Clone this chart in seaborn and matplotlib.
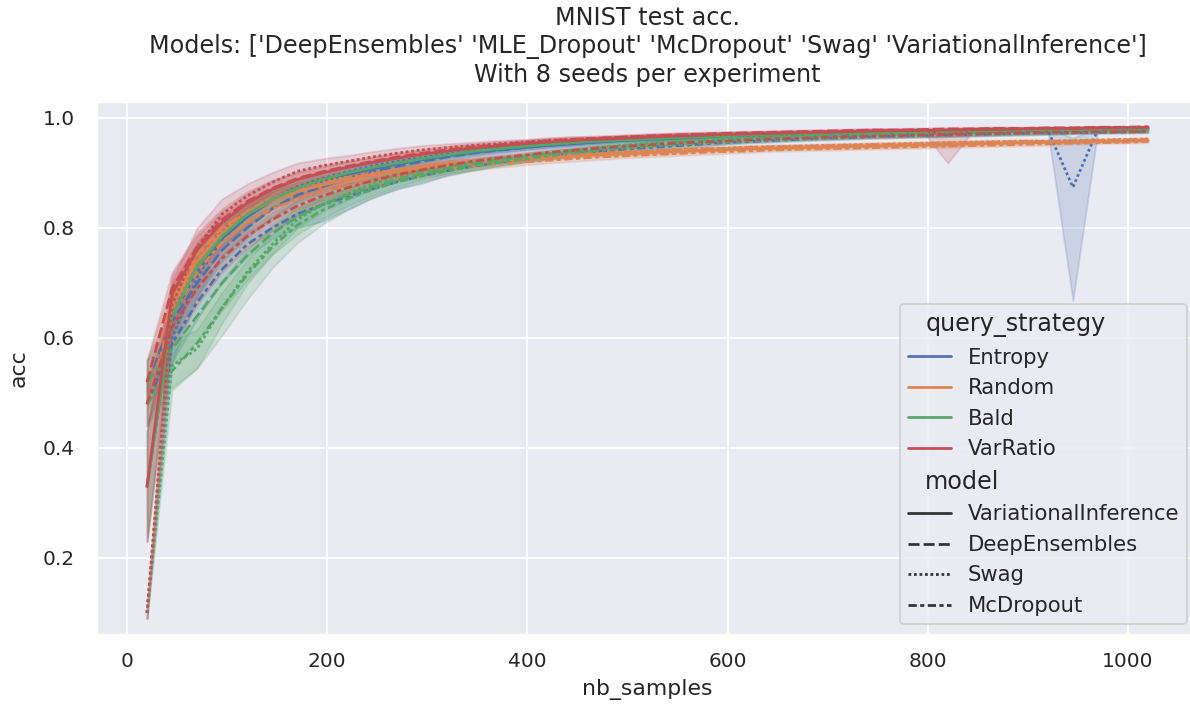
import matplotlib
matplotlib.use("Agg")
import matplotlib.pyplot as plt
import numpy as np
import pandas as pd
import seaborn as sns

# ---------------- data ----------------
nb_samples = list(range(20, 1021, 25))  # 41 acquisition steps

strategies = ["Entropy", "Random", "Bald", "VarRatio"]
models = ["VariationalInference", "DeepEnsembles", "Swag", "McDropout"]

# Entropy
E_VI = [0.33, 0.64, 0.72, 0.78, 0.82, 0.85, 0.87, 0.885, 0.897, 0.907,
        0.916, 0.924, 0.931, 0.937, 0.942, 0.946, 0.950, 0.953, 0.956, 0.959,
        0.961, 0.963, 0.965, 0.967, 0.968, 0.969, 0.970, 0.971, 0.972, 0.973,
        0.974, 0.975, 0.976, 0.976, 0.977, 0.978, 0.978, 0.979, 0.979, 0.980,
        0.980]
E_DE = [0.52, 0.63, 0.70, 0.76, 0.80, 0.835, 0.86, 0.875, 0.89, 0.902,
        0.912, 0.921, 0.929, 0.936, 0.941, 0.946, 0.950, 0.954, 0.957, 0.960,
        0.962, 0.964, 0.966, 0.968, 0.969, 0.970, 0.972, 0.973, 0.974, 0.975,
        0.976, 0.977, 0.977, 0.978, 0.979, 0.979, 0.980, 0.980, 0.981, 0.981,
        0.982]
E_Swag = [0.10, 0.60, 0.71, 0.78, 0.82, 0.855, 0.875, 0.89, 0.902, 0.913,
          0.921, 0.928, 0.935, 0.940, 0.945, 0.949, 0.953, 0.956, 0.959, 0.961,
          0.963, 0.965, 0.967, 0.968, 0.969, 0.971, 0.972, 0.973, 0.974, 0.975,
          0.975, 0.976, 0.977, 0.977, 0.978, 0.978, 0.978, 0.874, 0.979, 0.980,
          0.980]
E_McD = [0.48, 0.59, 0.665, 0.725, 0.77, 0.80, 0.825, 0.842, 0.857, 0.871,
         0.884, 0.895, 0.904, 0.912, 0.919, 0.925, 0.930, 0.935, 0.939, 0.943,
         0.946, 0.949, 0.952, 0.955, 0.957, 0.959, 0.961, 0.963, 0.964, 0.966,
         0.967, 0.968, 0.969, 0.970, 0.971, 0.972, 0.973, 0.973, 0.974, 0.975,
         0.975]
# Random
R_VI = [0.33, 0.66, 0.74, 0.79, 0.825, 0.85, 0.866, 0.878, 0.888, 0.896,
        0.903, 0.909, 0.914, 0.918, 0.922, 0.925, 0.928, 0.931, 0.933, 0.935,
        0.937, 0.939, 0.941, 0.942, 0.944, 0.945, 0.946, 0.947, 0.948, 0.949,
        0.950, 0.951, 0.952, 0.953, 0.954, 0.955, 0.956, 0.956, 0.957, 0.958,
        0.959]
R_DE = [0.52, 0.67, 0.75, 0.80, 0.83, 0.853, 0.868, 0.88, 0.89, 0.898,
        0.905, 0.911, 0.916, 0.920, 0.924, 0.927, 0.930, 0.933, 0.935, 0.937,
        0.939, 0.941, 0.943, 0.944, 0.946, 0.947, 0.948, 0.949, 0.950, 0.951,
        0.952, 0.953, 0.954, 0.955, 0.956, 0.957, 0.957, 0.958, 0.959, 0.960,
        0.961]
R_Swag = [0.10, 0.65, 0.74, 0.795, 0.83, 0.855, 0.872, 0.884, 0.893, 0.900,
          0.906, 0.912, 0.917, 0.921, 0.925, 0.928, 0.931, 0.934, 0.936, 0.938,
          0.940, 0.942, 0.944, 0.945, 0.947, 0.948, 0.949, 0.950, 0.951, 0.952,
          0.953, 0.954, 0.955, 0.956, 0.957, 0.958, 0.958, 0.959, 0.960, 0.961,
          0.962]
R_McD = [0.48, 0.64, 0.72, 0.775, 0.81, 0.835, 0.852, 0.866, 0.877, 0.886,
         0.894, 0.901, 0.907, 0.912, 0.916, 0.920, 0.923, 0.926, 0.929, 0.931,
         0.933, 0.935, 0.937, 0.939, 0.940, 0.942, 0.943, 0.944, 0.945, 0.946,
         0.947, 0.948, 0.949, 0.950, 0.951, 0.952, 0.953, 0.954, 0.955, 0.956,
         0.957]
# Bald
B_VI = [0.33, 0.64, 0.73, 0.785, 0.825, 0.852, 0.872, 0.888, 0.900, 0.910,
        0.918, 0.926, 0.933, 0.939, 0.944, 0.948, 0.952, 0.955, 0.958, 0.960,
        0.962, 0.964, 0.966, 0.967, 0.969, 0.970, 0.971, 0.972, 0.973, 0.974,
        0.975, 0.975, 0.976, 0.977, 0.977, 0.978, 0.978, 0.979, 0.979, 0.980,
        0.980]
B_DE = [0.52, 0.58, 0.64, 0.70, 0.75, 0.79, 0.82, 0.842, 0.86, 0.875,
        0.888, 0.899, 0.908, 0.916, 0.923, 0.929, 0.935, 0.940, 0.945, 0.949,
        0.952, 0.955, 0.958, 0.960, 0.962, 0.964, 0.966, 0.968, 0.969, 0.971,
        0.972, 0.973, 0.974, 0.975, 0.976, 0.977, 0.978, 0.978, 0.979, 0.980,
        0.980]
B_Swag = [0.10, 0.55, 0.58, 0.655, 0.72, 0.77, 0.815, 0.842, 0.862, 0.880,
          0.894, 0.904, 0.912, 0.919, 0.925, 0.931, 0.936, 0.941, 0.946, 0.950,
          0.954, 0.957, 0.960, 0.962, 0.964, 0.966, 0.968, 0.969, 0.971, 0.972,
          0.973, 0.974, 0.975, 0.976, 0.977, 0.977, 0.978, 0.978, 0.979, 0.979,
          0.980]
B_McD = [0.48, 0.54, 0.59, 0.655, 0.715, 0.765, 0.805, 0.832, 0.853, 0.870,
         0.884, 0.895, 0.904, 0.912, 0.919, 0.925, 0.931, 0.936, 0.941, 0.945,
         0.948, 0.951, 0.954, 0.956, 0.958, 0.960, 0.962, 0.963, 0.965, 0.966,
         0.967, 0.968, 0.969, 0.970, 0.971, 0.972, 0.973, 0.973, 0.974, 0.974,
         0.975]
# VarRatio
V_VI = [0.33, 0.68, 0.76, 0.81, 0.845, 0.87, 0.888, 0.900, 0.910, 0.919,
        0.927, 0.934, 0.940, 0.945, 0.949, 0.953, 0.956, 0.959, 0.961, 0.963,
        0.965, 0.967, 0.968, 0.970, 0.971, 0.972, 0.973, 0.974, 0.975, 0.976,
        0.977, 0.977, 0.978, 0.979, 0.979, 0.980, 0.981, 0.981, 0.982, 0.982,
        0.983]
V_DE = [0.52, 0.69, 0.765, 0.815, 0.848, 0.872, 0.89, 0.902, 0.912, 0.921,
        0.929, 0.936, 0.942, 0.947, 0.951, 0.955, 0.958, 0.961, 0.963, 0.965,
        0.967, 0.969, 0.970, 0.972, 0.973, 0.974, 0.975, 0.976, 0.977, 0.978,
        0.978, 0.979, 0.980, 0.980, 0.981, 0.981, 0.982, 0.982, 0.983, 0.983,
        0.984]
V_Swag = [0.10, 0.66, 0.765, 0.825, 0.858, 0.883, 0.903, 0.913, 0.921, 0.929,
          0.936, 0.942, 0.946, 0.950, 0.953, 0.956, 0.959, 0.961, 0.963, 0.965,
          0.967, 0.968, 0.970, 0.971, 0.972, 0.973, 0.974, 0.975, 0.976, 0.977,
          0.977, 0.978, 0.968, 0.979, 0.980, 0.980, 0.981, 0.981, 0.982, 0.982,
          0.983]
V_McD = [0.48, 0.62, 0.69, 0.745, 0.785, 0.815, 0.840, 0.858, 0.873, 0.886,
         0.897, 0.906, 0.914, 0.921, 0.927, 0.932, 0.937, 0.941, 0.945, 0.948,
         0.951, 0.954, 0.956, 0.958, 0.960, 0.962, 0.963, 0.965, 0.966, 0.967,
         0.968, 0.969, 0.970, 0.971, 0.972, 0.973, 0.974, 0.974, 0.975, 0.975,
         0.976]

# spread of the seeds around each curve (half-widths of the shaded bands)
band_VI = [0.10, 0.035, 0.025, 0.020, 0.017, 0.015, 0.013, 0.011, 0.010, 0.009,
           0.008, 0.007, 0.006, 0.006, 0.005, 0.005, 0.005, 0.004, 0.004, 0.004,
           0.004, 0.004, 0.003, 0.003, 0.003, 0.003, 0.003, 0.003, 0.003, 0.003,
           0.003, 0.003, 0.003, 0.003, 0.003, 0.002, 0.002, 0.002, 0.002, 0.002,
           0.002]
band_DE = [0.04, 0.030, 0.025, 0.020, 0.018, 0.015, 0.013, 0.012, 0.010, 0.009,
           0.008, 0.007, 0.007, 0.006, 0.006, 0.005, 0.005, 0.005, 0.004, 0.004,
           0.004, 0.004, 0.004, 0.003, 0.003, 0.003, 0.003, 0.003, 0.003, 0.003,
           0.003, 0.003, 0.003, 0.003, 0.003, 0.002, 0.002, 0.002, 0.002, 0.002,
           0.002]
band_Swag = [0.01, 0.045, 0.035, 0.028, 0.022, 0.018, 0.015, 0.013, 0.011, 0.010,
             0.009, 0.008, 0.007, 0.006, 0.006, 0.005, 0.005, 0.005, 0.004, 0.004,
             0.004, 0.004, 0.004, 0.003, 0.003, 0.003, 0.003, 0.003, 0.003, 0.003,
             0.003, 0.003, 0.003, 0.003, 0.003, 0.003, 0.002, 0.002, 0.002, 0.002,
             0.002]
band_McD = [0.04, 0.035, 0.030, 0.025, 0.022, 0.020, 0.018, 0.016, 0.014, 0.012,
            0.010, 0.009, 0.008, 0.007, 0.006, 0.006, 0.005, 0.005, 0.005, 0.004,
            0.004, 0.004, 0.004, 0.004, 0.003, 0.003, 0.003, 0.003, 0.003, 0.003,
            0.003, 0.003, 0.003, 0.003, 0.003, 0.003, 0.003, 0.002, 0.002, 0.002,
            0.002]
band_B_wide = [0.04, 0.030, 0.045, 0.050, 0.045, 0.038, 0.032, 0.026, 0.020, 0.016,
               0.013, 0.011, 0.009, 0.008, 0.007, 0.006, 0.006, 0.005, 0.005, 0.004,
               0.004, 0.004, 0.004, 0.004, 0.003, 0.003, 0.003, 0.003, 0.003, 0.003,
               0.003, 0.003, 0.003, 0.003, 0.003, 0.003, 0.003, 0.002, 0.002, 0.002,
               0.002]
band_E_McD = [0.04, 0.035, 0.030, 0.025, 0.022, 0.020, 0.025, 0.030, 0.024, 0.016,
              0.013, 0.014, 0.008, 0.007, 0.006, 0.006, 0.005, 0.005, 0.005, 0.004,
              0.004, 0.004, 0.004, 0.004, 0.003, 0.003, 0.003, 0.003, 0.003, 0.003,
              0.003, 0.003, 0.003, 0.003, 0.003, 0.003, 0.003, 0.002, 0.002, 0.002,
              0.002]
band_E_Swag_lo = [0.01, 0.045, 0.035, 0.028, 0.022, 0.018, 0.015, 0.013, 0.011, 0.010,
                  0.009, 0.008, 0.007, 0.006, 0.006, 0.005, 0.005, 0.005, 0.004, 0.004,
                  0.004, 0.004, 0.004, 0.003, 0.003, 0.003, 0.003, 0.003, 0.003, 0.003,
                  0.003, 0.003, 0.003, 0.003, 0.003, 0.003, 0.002, 0.206, 0.002, 0.002,
                  0.002]
band_E_Swag_hi = [0.01, 0.045, 0.035, 0.028, 0.022, 0.018, 0.015, 0.013, 0.011, 0.010,
                  0.009, 0.008, 0.007, 0.006, 0.006, 0.005, 0.005, 0.005, 0.004, 0.004,
                  0.004, 0.004, 0.004, 0.003, 0.003, 0.003, 0.003, 0.003, 0.003, 0.003,
                  0.003, 0.003, 0.003, 0.003, 0.003, 0.003, 0.002, 0.090, 0.002, 0.002,
                  0.002]
band_V_Swag_lo = [0.01, 0.045, 0.035, 0.028, 0.022, 0.018, 0.015, 0.013, 0.011, 0.010,
                  0.009, 0.008, 0.007, 0.006, 0.006, 0.005, 0.005, 0.005, 0.004, 0.004,
                  0.004, 0.004, 0.004, 0.003, 0.003, 0.003, 0.003, 0.003, 0.003, 0.003,
                  0.003, 0.003, 0.050, 0.003, 0.003, 0.003, 0.002, 0.002, 0.002, 0.002,
                  0.002]
band_V_Swag_hi = [0.01, 0.045, 0.035, 0.028, 0.022, 0.018, 0.015, 0.013, 0.011, 0.010,
                  0.009, 0.008, 0.007, 0.006, 0.006, 0.005, 0.005, 0.005, 0.004, 0.004,
                  0.004, 0.004, 0.004, 0.003, 0.003, 0.003, 0.003, 0.003, 0.003, 0.003,
                  0.003, 0.003, 0.008, 0.003, 0.003, 0.003, 0.002, 0.002, 0.002, 0.002,
                  0.002]

title_text = ("MNIST test acc.\n"
              "Models: ['DeepEnsembles' 'MLE_Dropout' 'McDropout' 'Swag' 'VariationalInference']\n"
              "With 8 seeds per experiment")

# ---------------- assemble table ----------------
curves = {
    ("Entropy", "VariationalInference"): (E_VI, band_VI, band_VI),
    ("Entropy", "DeepEnsembles"): (E_DE, band_DE, band_DE),
    ("Entropy", "Swag"): (E_Swag, band_E_Swag_lo, band_E_Swag_hi),
    ("Entropy", "McDropout"): (E_McD, band_E_McD, band_E_McD),
    ("Random", "VariationalInference"): (R_VI, band_VI, band_VI),
    ("Random", "DeepEnsembles"): (R_DE, band_DE, band_DE),
    ("Random", "Swag"): (R_Swag, band_Swag, band_Swag),
    ("Random", "McDropout"): (R_McD, band_McD, band_McD),
    ("Bald", "VariationalInference"): (B_VI, band_VI, band_VI),
    ("Bald", "DeepEnsembles"): (B_DE, band_B_wide, band_B_wide),
    ("Bald", "Swag"): (B_Swag, band_Swag, band_Swag),
    ("Bald", "McDropout"): (B_McD, band_B_wide, band_B_wide),
    ("VarRatio", "VariationalInference"): (V_VI, band_VI, band_VI),
    ("VarRatio", "DeepEnsembles"): (V_DE, band_DE, band_DE),
    ("VarRatio", "Swag"): (V_Swag, band_V_Swag_lo, band_V_Swag_hi),
    ("VarRatio", "McDropout"): (V_McD, band_McD, band_McD),
}

rows = []
for (strat, model), (mean, lo, hi) in curves.items():
    for x, m, l, h in zip(nb_samples, mean, lo, hi):
        for v in (m - l, m, m + h):
            rows.append({"nb_samples": x, "acc": v,
                         "query_strategy": strat, "model": model})
df = pd.DataFrame(rows)

# ---------------- plot ----------------
sns.set_theme(style="darkgrid", context="notebook")
plt.rcParams["legend.loc"] = "lower right"
plt.rcParams["legend.fontsize"] = 11.5
plt.rcParams["legend.title_fontsize"] = 13
DPI = 132
fig = plt.figure(figsize=(1190 / DPI, 708 / DPI), dpi=DPI)
ax = fig.add_axes([97 / 1190, 1 - 635 / 708, (1198 - 97) / 1190, (635 - 102) / 708])

sns.lineplot(data=df, x="nb_samples", y="acc",
             hue="query_strategy", style="model",
             hue_order=strategies, style_order=models,
             estimator="median", errorbar=("pi", 100), ax=ax)

ax.set_xlim(-30, 1070)
ax.set_ylim(0.06, 1.029)
ax.set_title(title_text, fontsize=13, pad=11)
ax.tick_params(axis="y", pad=6)
ax.set_ylabel("acc", labelpad=8)

# seaborn-style legend subtitles: larger text, shifted left over the handles
leg = ax.get_legend()
for txt in leg.get_texts():
    if txt.get_text() in ("query_strategy", "model"):
        txt.set_fontsize(13)
        hpack = txt.get_parent() if hasattr(txt, "get_parent") else None
for vpack in leg._legend_handle_box.get_children():
    for hpack in vpack.get_children():
        draw_area, text_area = hpack.get_children()
        label = text_area.get_children()[0].get_text()
        if label in ("query_strategy", "model"):
            draw_area.set_width(0)

fig.savefig("out.png", dpi=DPI)
